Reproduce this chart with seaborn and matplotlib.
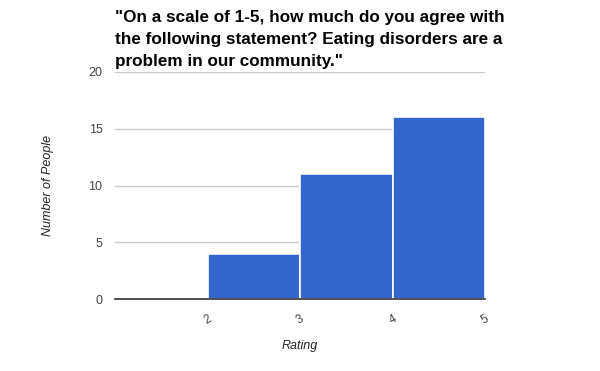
import matplotlib
matplotlib.use("Agg")
import matplotlib.pyplot as plt
import seaborn as sns
import pandas as pd

# Data
ratings = [1, 2, 3, 4]          # left edge of each rating bucket
counts = [0, 4, 11, 16]         # number of people in each bucket
bin_edges = [1, 2, 3, 4, 5]
y_ticks = [0, 5, 10, 15, 20]
x_ticks = [2, 3, 4, 5]
title = '"On a scale of 1-5, how much do you agree with\nthe following statement? Eating disorders are a\nproblem in our community."'

sns.set_theme(style="white")
plt.rcParams['font.family'] = ['Liberation Sans', 'DejaVu Sans']

df = pd.DataFrame({"Rating": ratings, "Count": counts})

fig = plt.figure(figsize=(6.0, 3.71), dpi=100)
ax = fig.add_axes([115/600, 1-299/371, 370/600, 227/371])

sns.histplot(data=df, x="Rating", weights="Count", bins=bin_edges, ax=ax,
             color="#3366CC", alpha=1.0, edgecolor="white", linewidth=1.2, zorder=3)

ax.set_xlim(1, 5)
ax.set_ylim(0, 20)
ax.set_yticks(y_ticks)
ax.set_xticks(x_ticks)
ax.set_xticklabels([str(t) for t in x_ticks], rotation=30, ha='right',
                   rotation_mode='anchor', fontsize=8.5, color="#444444")
ax.set_yticklabels([str(t) for t in y_ticks], fontsize=9, color="#444444")
ax.tick_params(axis='both', length=0)
ax.tick_params(axis='y', pad=9)
ax.tick_params(axis='x', pad=10)

for s in ["top", "right", "left"]:
    ax.spines[s].set_visible(False)
ax.spines["bottom"].set_color("#333333")
ax.spines["bottom"].set_linewidth(1.2)
ax.spines["bottom"].set_zorder(5)

ax.yaxis.grid(True, color="#cccccc", linewidth=1, zorder=0)
ax.set_axisbelow(True)

ax.set_xlabel("Rating", fontsize=9, style="italic", color="#222222", labelpad=10)
ax.set_ylabel("Number of People", fontsize=9, style="italic", color="#222222", labelpad=25)

fig.text(115/600, 1-10/371, title, ha='left', va='top', fontsize=12.3,
         fontweight='bold', color="#000000", linespacing=1.58)

fig.savefig("out.png", dpi=100)
